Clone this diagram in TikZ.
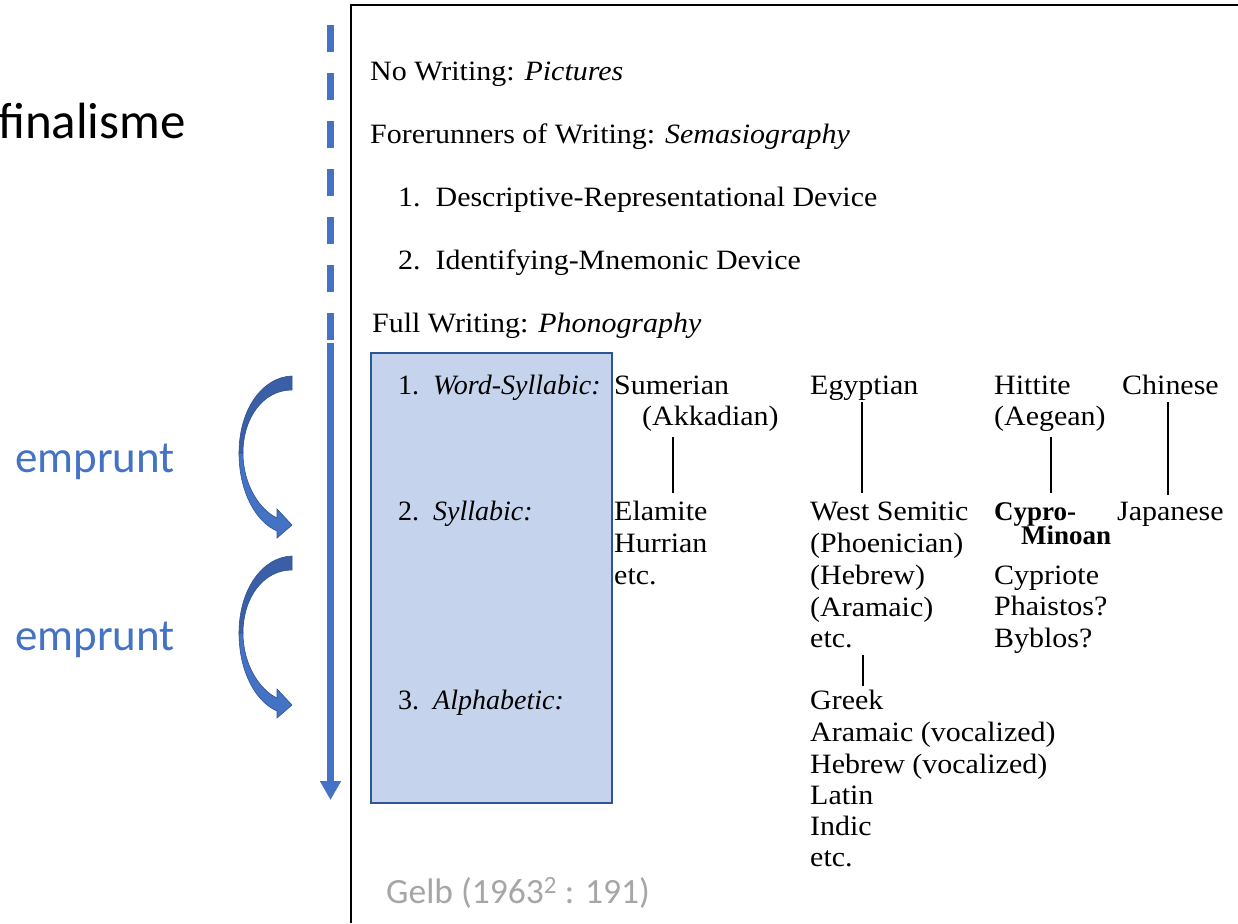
\documentclass[tikz,border=0pt]{standalone}
\usepackage{fontspec}
\setmainfont{Liberation Serif}[FakeStretch=1.07]
\newfontfamily\plainserif{Liberation Serif}
\newfontfamily\calib{Carlito}
\usetikzlibrary{arrows.meta}
\definecolor{obl}{HTML}{4472C4}
\definecolor{obldark}{HTML}{3A5FA6}
\definecolor{obledge}{HTML}{2F528F}
\definecolor{boxfill}{HTML}{C5D4EC}
\definecolor{boxline}{HTML}{2F5597}
\definecolor{gelbgray}{HTML}{A6A6A6}
\tikzset{
  txt/.style={anchor=base west, inner sep=0pt, font=\fontsize{28}{32}\selectfont},
  cattxt/.style={anchor=base west, inner sep=0pt, font=\plainserif\fontsize{28}{32}\selectfont},
  boldtxt/.style={anchor=base west, inner sep=0pt, font=\plainserif\bfseries\fontsize{27}{32}\selectfont},
  bluelbl/.style={anchor=base west, inner sep=0pt, font=\calib\fontsize{45}{50}\selectfont, text=obl},
  treeline/.style={line width=1.6pt, black},
  frameline/.style={line width=2pt, black},
  timeline/.style={line width=7pt, obl},
  backpart/.style={fill=obldark, draw=obledge, line width=0.6pt},
  frontpart/.style={fill=obl, draw=obledge, line width=0.6pt}
}
\begin{document}
\begin{tikzpicture}[x=1pt,y=-1pt]
\useasboundingbox (0,0) rectangle (1238,923);
% scanned page frame
\coordinate (fbl) at (351,923);
\coordinate (ftl) at (351,5);
\coordinate (ftr) at (1238,5);
\draw[frameline] (fbl) -- (ftl) -- (ftr);
% time line
\coordinate (dtop) at (330.5,25);
\coordinate (dmid) at (330.5,343);
\coordinate (dbot) at (330.5,800);
\draw[timeline, dash pattern=on 27pt off 21pt] (dtop) -- (dmid);
\draw[timeline, -{Triangle[width=20pt,length=19pt]}] (dmid) -- (dbot);
% highlight box
\node[draw=boxline, fill=boxfill, line width=1.8pt, minimum width=241pt, minimum height=450pt, inner sep=0pt, anchor=north west] (box) at (370,352) {};
% curved arrows
\foreach \dy in {0,180}{
\begin{scope}[shift={(0,\dy)}]
\path[backpart] (292,376) .. controls (262,377) and (239,410) .. (239,453)
  -- (243,453) .. controls (243,418) and (263,390) .. (292,390) -- cycle;
\path[frontpart] (239,453) .. controls (239,492) and (256,522) .. (277,531)
  -- (277,538) -- (292,525) -- (277,509) -- (277,518)
  .. controls (260,510) and (243,485) .. (243,453) -- cycle;
\end{scope}}
% left labels
\node[anchor=base east, inner sep=0pt, font=\calib\fontsize{51}{56}\selectfont] (fin) at (186,138) {finalisme};
\node[bluelbl] (emp1) at (15,472) {emprunt};
\node[bluelbl] (emp2) at (15,650) {emprunt};
% header lines
\node[txt] (nw) at (370,81) {No Writing: \textit{Pictures}};
\node[txt] (fw) at (370,143) {Forerunners of Writing: \textit{Semasiography}};
\node[txt] (d1) at (398,206) {1.\ \ Descriptive-Representational Device};
\node[txt] (d2) at (398,269) {2.\ \ Identifying-Mnemonic Device};
\node[txt] (full) at (372,332) {Full Writing: \textit{Phonography}};
% category labels
\node[cattxt] (l1) at (398,394) {1.\ \ \textit{Word-Syllabic:}};
\node[cattxt] (l2) at (398,520) {2.\ \ \textit{Syllabic:}};
\node[cattxt] (l3) at (398,709) {3.\ \ \textit{Alphabetic:}};
% column 1
\node[txt] (sum) at (614,394) {Sumerian};
\node[txt] (akk) at (642,425) {(Akkadian)};
\node[txt] (ela) at (614,520) {Elamite};
\node[txt] (hur) at (614,552) {Hurrian};
\node[txt] (etca) at (614,584) {etc.};
% column 2
\node[txt] (egy) at (810,394) {Egyptian};
\node[txt] (ws) at (810,520) {West Semitic};
\node[txt] (pho) at (810,552) {(Phoenician)};
\node[txt] (heb) at (810,584) {(Hebrew)};
\node[txt] (ara) at (810,616) {(Aramaic)};
\node[txt] (etcb) at (810,647) {etc.};
\node[txt] (gre) at (810,709) {Greek};
\node[txt] (arav) at (810,741) {Aramaic (vocalized)};
\node[txt] (hebv) at (810,773) {Hebrew (vocalized)};
\node[txt] (lat) at (810,804) {Latin};
\node[txt] (ind) at (810,835) {Indic};
\node[txt] (etcc) at (810,866) {etc.};
% column 3
\node[txt] (hit) at (994,394) {Hittite};
\node[txt] (aeg) at (994,425) {(Aegean)};
\node[boldtxt] (cyp) at (994,520) {Cypro-};
\node[boldtxt] (min) at (1021,544) {Minoan};
\node[txt] (cypr) at (994,584) {Cypriote};
\node[txt] (pha) at (994,615) {Phaistos?};
\node[txt] (byb) at (994,647) {Byblos?};
% column 4
\node[txt] (chi) at (1122,394) {Chinese};
\node[txt] (jap) at (1117,520) {Japanese};
% tree lines
\coordinate (t1a) at (673,437); \coordinate (t1b) at (673,493);
\coordinate (t2a) at (862,402); \coordinate (t2b) at (862,493);
\coordinate (t3a) at (1051,437); \coordinate (t3b) at (1051,493);
\coordinate (t4a) at (1168,402); \coordinate (t4b) at (1168,495);
\coordinate (t5a) at (863,655); \coordinate (t5b) at (863,686);
\draw[treeline] (t1a) -- (t1b);
\draw[treeline] (t2a) -- (t2b);
\draw[treeline] (t3a) -- (t3b);
\draw[treeline] (t4a) -- (t4b);
\draw[treeline] (t5a) -- (t5b);
% source
\node[anchor=base west, inner sep=0pt, font=\calib\fontsize{35.5}{40}\selectfont, text=gelbgray] (gelb) at (386,903) {Gelb (1963\textsuperscript{2} : 191)};
\end{tikzpicture}
\end{document}
